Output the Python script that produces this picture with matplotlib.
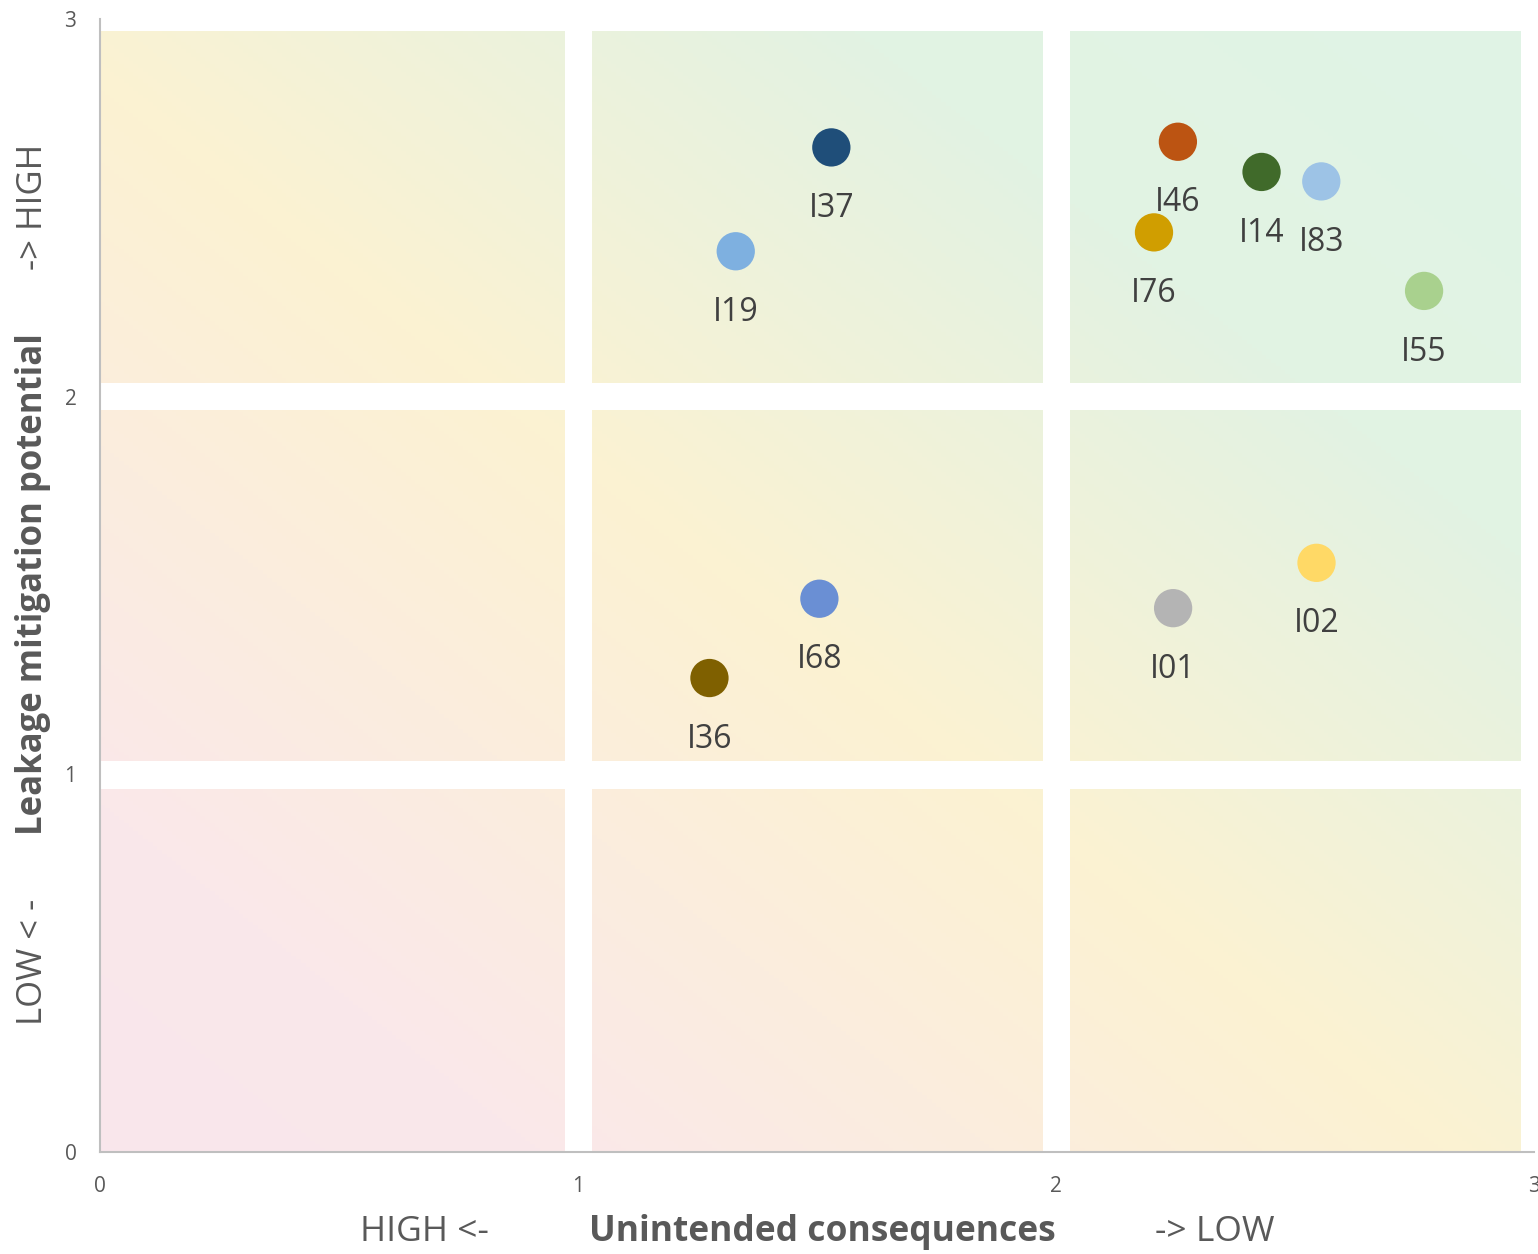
import numpy as np
import matplotlib
matplotlib.use("Agg")
import matplotlib.pyplot as plt
from matplotlib.colors import LinearSegmentedColormap
from matplotlib.patches import Rectangle

# ======================
# データ
# ======================
labels = ["I37", "I19", "I46", "I14", "I83", "I76", "I55", "I68", "I36", "I01", "I02"]
unintended = [1.53, 1.33, 2.255, 2.43, 2.555, 2.205, 2.77, 1.505, 1.275, 2.245, 2.545]
mitigation = [2.66, 2.385, 2.675, 2.595, 2.57, 2.435, 2.28, 1.465, 1.255, 1.44, 1.56]
colors = ["#1F4E79", "#7EB0E0", "#BC5412", "#406A2A", "#9DC3E6", "#D09E00",
          "#A9D18E", "#6A8FD4", "#7F6000", "#B4B4B4", "#FFD966"]

x_ticks = [0, 1, 2, 3]
y_ticks = [0, 1, 2, 3]

plt.rcParams["font.family"] = ["Open Sans", "DejaVu Sans"]
gray = "#595959"

W, H = 1538, 1254
fig = plt.figure(figsize=(W / 100, H / 100), dpi=100)
ax = fig.add_axes([100 / W, 1 - 1152 / H, (1534 - 100) / W, (1152 - 19) / H])

# ======================
# 背景グラデーション
# ======================
cmap = LinearSegmentedColormap.from_list(
    "bg", [(0.0, "#F9E6EC"), (0.15, "#FAE8EA"), (0.47, "#FCF2D2"),
           (0.76, "#E2F3E3"), (1.0, "#E0F3E6")])
g = np.linspace(0, 1, 300)
gx, gy = np.meshgrid(g, g)
ax.imshow((gx + gy) / 2, cmap=cmap, extent=[0, 3, 0, 3], origin="lower",
          aspect="auto", zorder=0, vmin=0, vmax=1)

# white gaps between the 3x3 cells
for x0, x1 in [(0.973, 1.03), (1.973, 2.03), (2.973, 3.1)]:
    ax.add_patch(Rectangle((x0, -0.1), x1 - x0, 3.3, color="white", lw=0, zorder=1))
for y0, y1 in [(0.962, 1.034), (1.965, 2.036), (2.968, 3.1)]:
    ax.add_patch(Rectangle((-0.1, y0), 3.3, y1 - y0, color="white", lw=0, zorder=1))

# ======================
# 点とラベル
# ======================
ax.scatter(unintended, mitigation, s=760, c=colors, zorder=3, linewidths=0)
for lab, x, y in zip(labels, unintended, mitigation):
    ax.annotate(lab, (x, y), xytext=(0, -44), textcoords="offset points",
                ha="center", va="center", fontsize=23, color="#404040", zorder=4)

ax.set_xlim(0, 3)
ax.set_ylim(0, 3)
ax.set_xticks(x_ticks)
ax.set_yticks(y_ticks)
ax.tick_params(length=0, labelsize=15, colors=gray)
ax.tick_params(axis="x", pad=17)
ax.tick_params(axis="y", pad=17)
for s in ["top", "right"]:
    ax.spines[s].set_visible(False)
for s in ["left", "bottom"]:
    ax.spines[s].set_color("#BFBFBF")
    ax.spines[s].set_linewidth(1.5)

# ======================
# 軸ラベル
# ======================
def px(x, y):
    return x / W, 1 - y / H

fig.text(*px(424, 1232), "HIGH <-", ha="center", va="center", fontsize=25.5, color=gray)
fig.text(*px(822, 1232), "Unintended consequences", ha="center", va="center",
         fontsize=25.5, fontweight="bold", color=gray)
fig.text(*px(1215, 1232), "-> LOW", ha="center", va="center", fontsize=25.5, color=gray)

fig.text(*px(33, 962), "LOW < -", ha="center", va="center", rotation=90, fontsize=25, color=gray)
fig.text(*px(33, 584), "Leakage mitigation potential", ha="center", va="center",
         rotation=90, fontsize=25, fontweight="bold", color=gray)
fig.text(*px(33, 207), "-> HIGH", ha="center", va="center", rotation=90, fontsize=25, color=gray)

fig.savefig("out.png", dpi=100)
